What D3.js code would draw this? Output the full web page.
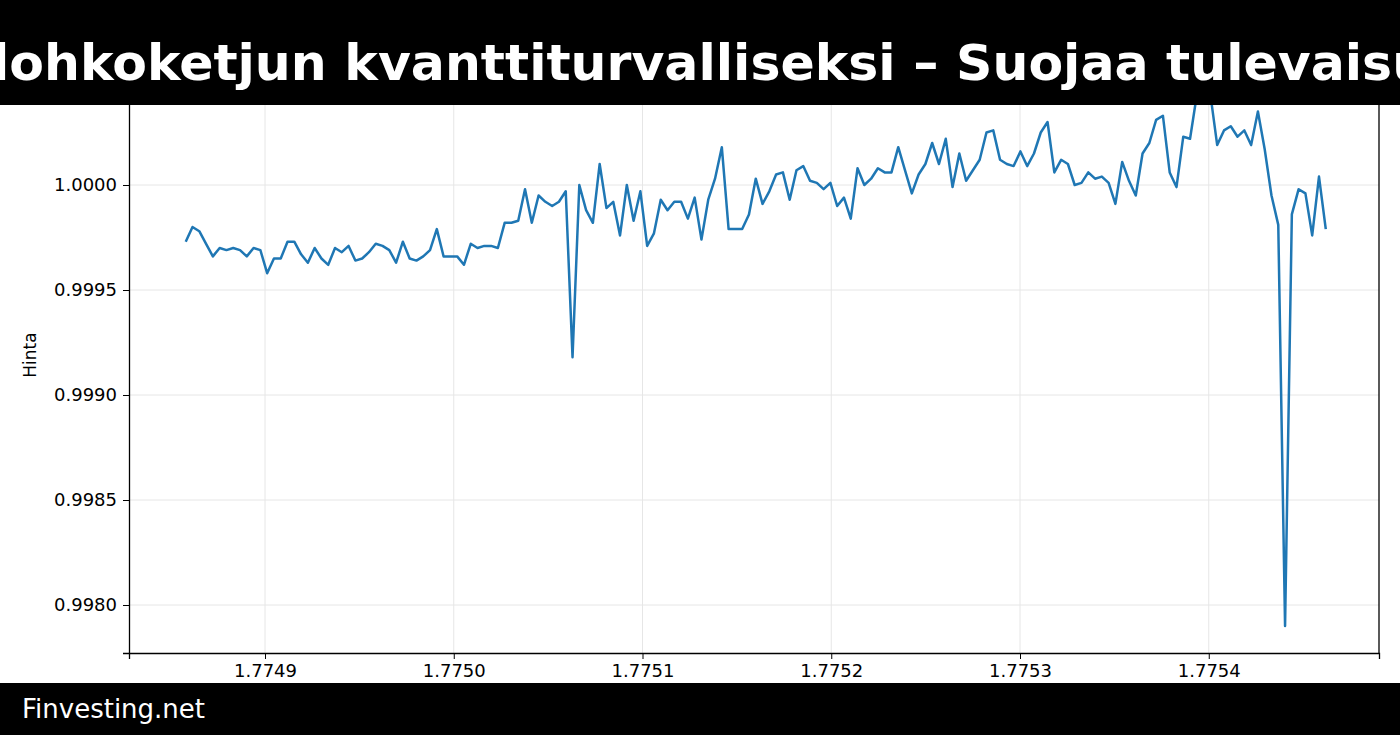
<!DOCTYPE html>
<html>
<head>
<meta charset="utf-8">
<script src="https://cdn.jsdelivr.net/npm/d3@7"></script>
<style>
body { margin: 0; background: #fff; }
text { font-family: "DejaVu Sans", sans-serif; }
</style>
</head>
<body>
<script>
// chart data
var title = "Tee lohkoketjun kvanttiturvalliseksi – Suojaa tulevaisuutesi";
var xStart = 1.774858, xEnd = 1.775462;
var prices = [
0.99973,0.99980,0.99978,0.99972,0.99966,0.99970,0.99969,0.99970,0.99969,0.99966,
0.99970,0.99969,0.99958,0.99965,0.99965,0.99973,0.99973,0.99967,0.99963,0.99970,
0.99965,0.99962,0.99970,0.99968,0.99971,0.99964,0.99965,0.99968,0.99972,0.99971,
0.99969,0.99963,0.99973,0.99965,0.99964,0.99966,0.99969,0.99979,0.99966,0.99966,
0.99966,0.99962,0.99972,0.99970,0.99971,0.99971,0.99970,0.99982,0.99982,0.99983,
0.99998,0.99982,0.99995,0.99992,0.99990,0.99992,0.99997,0.99918,1.00000,0.99988,
0.99982,1.00010,0.99989,0.99992,0.99976,1.00000,0.99983,0.99997,0.99971,0.99977,
0.99993,0.99988,0.99992,0.99992,0.99984,0.99994,0.99974,0.99993,1.00003,1.00018,
0.99979,0.99979,0.99979,0.99986,1.00003,0.99991,0.99997,1.00005,1.00006,0.99993,
1.00007,1.00009,1.00002,1.00001,0.99998,1.00001,0.99990,0.99994,0.99984,1.00008,
1.00000,1.00003,1.00008,1.00006,1.00006,1.00018,1.00007,0.99996,1.00005,1.00010,
1.00020,1.00010,1.00022,0.99999,1.00015,1.00002,1.00007,1.00012,1.00025,1.00026,
1.00012,1.00010,1.00009,1.00016,1.00009,1.00015,1.00025,1.00030,1.00006,1.00012,
1.00010,1.00000,1.00001,1.00006,1.00003,1.00004,1.00001,0.99991,1.00011,1.00002,
0.99995,1.00015,1.00020,1.00031,1.00033,1.00006,0.99999,1.00023,1.00022,1.00043,
1.00046,1.00043,1.00019,1.00026,1.00028,1.00023,1.00026,1.00019,1.00035,1.00017,
0.99995,0.99981,0.99790,0.99986,0.99998,0.99996,0.99976,1.00004,0.99979
];
var xTicks = [1.7749, 1.7750, 1.7751, 1.7752, 1.7753, 1.7754];
var yTicks = [0.9980, 0.9985, 0.9990, 0.9995, 1.0000];

var W = 1400, H = 735;
var svg = d3.select("body").append("svg").attr("width", W).attr("height", H);

var plotLeft = 129, plotRight = 1379, plotTop = 60, plotBottom = 653;

var x = d3.scaleLinear()
    .domain([1.7749 + (plotLeft - 265) / 188.75 * 0.0001, 1.7749 + (plotRight - 265) / 188.75 * 0.0001])
    .range([plotLeft, plotRight]);
var y = d3.scaleLinear()
    .domain([0.998 - 48 / 210000, 1.0 + 125 / 210000])
    .range([plotBottom, plotTop]);

var step = (xEnd - xStart) / (prices.length - 1);
var pts = prices.map(function(p, i) { return [xStart + i * step, p]; });

// grid
svg.append("g").selectAll("line").data(xTicks).enter().append("line")
    .attr("x1", d => x(d)).attr("x2", d => x(d)).attr("y1", plotTop).attr("y2", plotBottom)
    .attr("stroke", "#e6e6e6").attr("stroke-width", 1);
svg.append("g").selectAll("line").data(yTicks).enter().append("line")
    .attr("x1", plotLeft).attr("x2", plotRight).attr("y1", d => y(d)).attr("y2", d => y(d))
    .attr("stroke", "#e6e6e6").attr("stroke-width", 1);

svg.append("path").datum(pts)
    .attr("d", d3.line().x(d => x(d[0])).y(d => y(d[1])))
    .attr("fill", "none").attr("stroke", "#1f77b4").attr("stroke-width", 2.5)
    .attr("stroke-linejoin", "round");

var xAxis = svg.append("g").attr("transform", "translate(0," + plotBottom + ")")
    .call(d3.axisBottom(x).tickValues(xTicks).tickFormat(d3.format(".4f")).tickSizeOuter(0).tickSize(6).tickPadding(5));
var yAxis = svg.append("g").attr("transform", "translate(" + plotLeft + ",0)")
    .call(d3.axisLeft(y).tickValues(yTicks).tickFormat(d3.format(".4f")).tickSizeOuter(0).tickSize(6).tickPadding(6));
[xAxis, yAxis].forEach(function(a) {
    a.selectAll("text").attr("font-size", 18).attr("fill", "#000").attr("font-family", "DejaVu Sans");
    a.select(".domain").attr("stroke", "#000").attr("stroke-width", 1.3);
    a.selectAll(".tick line").attr("stroke", "#000");
});
svg.append("line").attr("x1", plotRight).attr("x2", plotRight).attr("y1", plotTop).attr("y2", plotBottom)
    .attr("stroke", "#000").attr("stroke-width", 1.3);

svg.append("text").attr("transform", "translate(36,355) rotate(-90)")
    .attr("text-anchor", "middle").attr("font-size", 17).text("Hinta");

// banners
svg.append("rect").attr("x", 0).attr("y", 0).attr("width", W).attr("height", 105).attr("fill", "#000");
svg.append("text").attr("x", 724).attr("y", 80).attr("text-anchor", "middle")
    .attr("font-size", 50.5).attr("font-weight", "bold").attr("fill", "#fff").text(title);
svg.append("rect").attr("x", 0).attr("y", 683).attr("width", W).attr("height", 52).attr("fill", "#000");
svg.append("text").attr("x", 22).attr("y", 718).attr("font-size", 26).attr("fill", "#fff").text("Finvesting.net");
</script>
</body>
</html>
